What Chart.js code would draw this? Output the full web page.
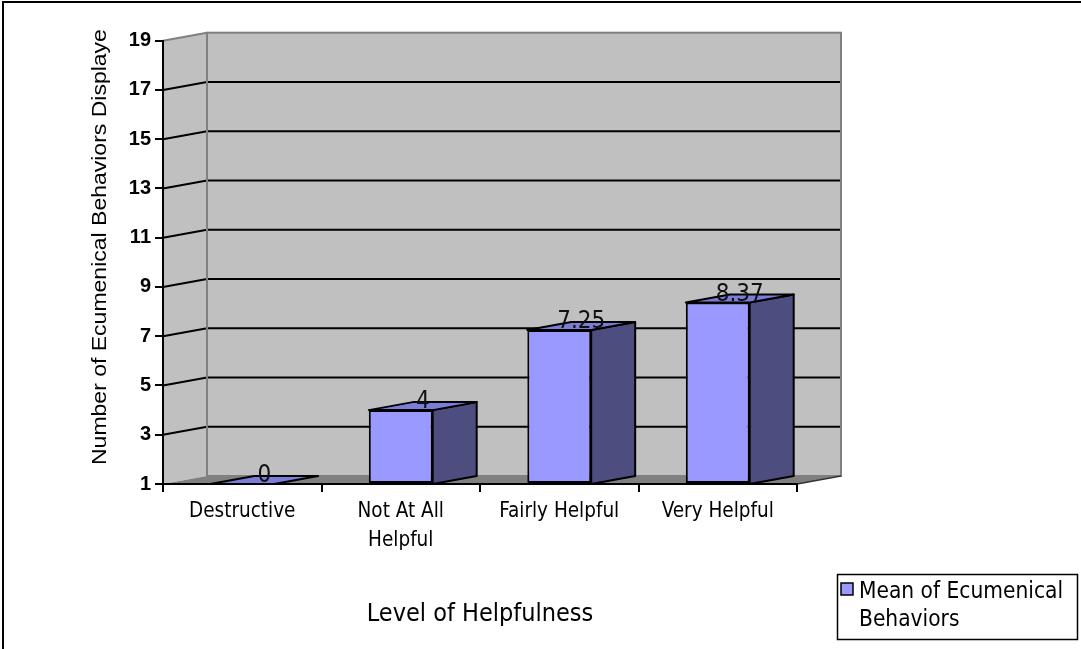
<!DOCTYPE html>
<html>
<head>
<meta charset="utf-8">
<title>Mean of Ecumenical Behaviors</title>
<script src="https://cdn.jsdelivr.net/npm/chart.js@4.4.1/dist/chart.umd.min.js"></script>
<style>
  html, body { margin: 0; padding: 0; background: #fff; }
  canvas { display: block; }
</style>
</head>
<body>
<canvas id="chart" width="1081" height="649"></canvas>
<script>
// Categories, values and tick labels
const categories = ['Destructive', ['Not At All', 'Helpful'], 'Fairly Helpful', 'Very Helpful'];
const meanValues = [0, 4, 7.25, 8.37];
const yTickValues = [1, 3, 5, 7, 9, 11, 13, 15, 17, 19];
const seriesName = 'Mean of Ecumenical Behaviors';
const legendLines = ['Mean of Ecumenical', 'Behaviors'];
const yTitle = 'Number of Ecumenical Behaviors Displayed';
const xTitle = 'Level of Helpfulness';

const NARROW = '"DejaVu Sans Condensed", "DejaVu Sans", sans-serif';
const ARIAL = '"Liberation Sans", Arial, sans-serif';

// Depth of the 3-D box (walls, floor and columns)
const DX = 44, DY = 8;

const FRONT = '#9999FF';
const SIDE = '#4D4D80';
const TOP = '#7C7CD9';

function poly(ctx, pts) {
  ctx.beginPath();
  ctx.moveTo(pts[0][0], pts[0][1]);
  for (let i = 1; i < pts.length; i++) ctx.lineTo(pts[i][0], pts[i][1]);
  ctx.closePath();
}

const box3d = {
  id: 'box3d',
  beforeDraw(chart) {
    const { ctx, chartArea: a, scales: { y } } = chart;
    const L = a.left, R = a.right, T = a.top, B = a.bottom;
    ctx.save();
    ctx.fillStyle = '#fff';
    ctx.fillRect(0, 0, chart.width, chart.height);

    // outer frame
    ctx.strokeStyle = '#000';
    ctx.lineWidth = 2;
    ctx.strokeRect(3, 2, chart.width + 10, chart.height + 10);

    // back wall
    ctx.fillStyle = '#C0C0C0';
    ctx.fillRect(L + DX, T - DY, R - L, B - T);
    // side wall
    poly(ctx, [[L, T], [L + DX, T - DY], [L + DX, B - DY], [L, B]]);
    ctx.fill();
    // floor
    ctx.fillStyle = '#808080';
    poly(ctx, [[L, B], [R, B], [R + DX, B - DY], [L + DX, B - DY]]);
    ctx.fill();

    // gridlines across side wall and back wall
    ctx.strokeStyle = '#000';
    ctx.lineWidth = 2;
    yTickValues.forEach(v => {
      if (v <= y.min || v >= y.max) return;
      const py = y.getPixelForValue(v);
      ctx.beginPath();
      ctx.moveTo(L, py);
      ctx.lineTo(L + DX, py - DY);
      ctx.lineTo(R + DX, py - DY);
      ctx.stroke();
    });

    // wall edges
    ctx.strokeStyle = '#808080';
    ctx.lineWidth = 2;
    ctx.strokeRect(L + DX, T - DY, R - L, B - T);
    ctx.beginPath();
    ctx.moveTo(L, T);
    ctx.lineTo(L + DX, T - DY);
    ctx.stroke();
    ctx.strokeStyle = '#333';
    ctx.lineWidth = 1.5;
    ctx.beginPath();
    ctx.moveTo(R, B);
    ctx.lineTo(R + DX, B - DY);
    ctx.stroke();
    ctx.restore();
  },
  afterDatasetsDraw(chart) {
    const { ctx, chartArea: a, scales: { y } } = chart;
    const B = a.bottom;
    const meta = chart.getDatasetMeta(0);
    const data = chart.data.datasets[0].data;
    ctx.save();
    ctx.lineWidth = 2;
    ctx.strokeStyle = '#000';
    ctx.lineJoin = 'round';
    meta.data.forEach((bar, i) => {
      const v = data[i];
      const top = y.getPixelForValue(Math.max(v, y.min));
      const xl = bar.x - bar.width / 2;
      const xr = bar.x + bar.width / 2;
      if (B - top > 0.5) {
        ctx.fillStyle = SIDE;
        poly(ctx, [[xr, top], [xr + DX, top - DY], [xr + DX, B - DY], [xr, B]]);
        ctx.fill();
        ctx.stroke();
      }
      ctx.fillStyle = TOP;
      poly(ctx, [[xl, top], [xl + DX, top - DY], [xr + DX, top - DY], [xr, top]]);
      ctx.fill();
      ctx.stroke();

      ctx.fillStyle = '#111';
      ctx.font = '24px ' + NARROW;
      ctx.textAlign = 'center';
      ctx.textBaseline = 'middle';
      ctx.fillText(String(v), bar.x + DX / 2, top - DY / 2 - 4);
    });
    ctx.restore();
  },
  afterDraw(chart) {
    const { ctx } = chart;
    ctx.save();

    // value-axis title, clipped at the top like the original layout
    ctx.save();
    ctx.beginPath();
    ctx.rect(0, 28, 160, 500);
    ctx.clip();
    ctx.translate(106, 465);
    ctx.rotate(-Math.PI / 2);
    ctx.font = '20px ' + ARIAL;
    ctx.fillStyle = '#000';
    ctx.textAlign = 'left';
    ctx.textBaseline = 'alphabetic';
    ctx.scale(1.15, 1);
    ctx.fillText(yTitle, 0, 0);
    ctx.restore();

    // category-axis title
    ctx.font = '25px ' + NARROW;
    ctx.fillStyle = '#000';
    ctx.textAlign = 'center';
    ctx.textBaseline = 'middle';
    ctx.fillText(xTitle, 480, 614);

    // legend
    ctx.strokeStyle = '#000';
    ctx.lineWidth = 1.5;
    ctx.strokeRect(837.5, 574.5, 240, 65);
    ctx.fillStyle = FRONT;
    ctx.fillRect(841, 583, 12, 12);
    ctx.strokeRect(841, 583, 12, 12);
    ctx.fillStyle = '#000';
    ctx.font = '22.5px ' + NARROW;
    ctx.textAlign = 'left';
    ctx.fillText(legendLines[0], 859, 592);
    ctx.fillText(legendLines[1], 859, 620);
    ctx.restore();
  }
};

new Chart(document.getElementById('chart'), {
  type: 'bar',
  data: {
    labels: categories,
    datasets: [{
      label: seriesName,
      data: meanValues,
      base: 1,
      backgroundColor: FRONT,
      borderColor: '#000',
      borderWidth: 2,
      borderSkipped: false,
      categoryPercentage: 1,
      barPercentage: 0.403,
      clip: { left: false, top: false, right: false, bottom: 0 }
    }]
  },
  options: {
    responsive: false,
    animation: false,
    layout: { padding: { top: 40.7, right: 284, bottom: 0, left: 0 } },
    plugins: { legend: { display: false }, tooltip: { enabled: false } },
    scales: {
      x: {
        offset: true,
        grid: { offset: true, drawOnChartArea: false, drawTicks: true, tickLength: 8, color: '#000', lineWidth: 2 },
        border: { display: true, color: '#000', width: 2 },
        ticks: {
          color: '#000', padding: 5, maxRotation: 0, autoSkip: false,
          font: { family: NARROW, size: 20.5, lineHeight: 1.41 }
        },
        afterFit(scale) { scale.height = 165; }
      },
      y: {
        min: 1,
        max: 19,
        grid: { drawOnChartArea: false, drawTicks: true, tickLength: 8, color: '#000', lineWidth: 2 },
        border: { display: true, color: '#000', width: 2 },
        ticks: {
          color: '#000', padding: 4,
          font: { family: ARIAL, size: 20, weight: 'bold' }
        },
        afterBuildTicks(scale) { scale.ticks = yTickValues.map(v => ({ value: v })); },
        afterFit(scale) { scale.width = 163; }
      }
    }
  },
  plugins: [box3d]
});
</script>
</body>
</html>
